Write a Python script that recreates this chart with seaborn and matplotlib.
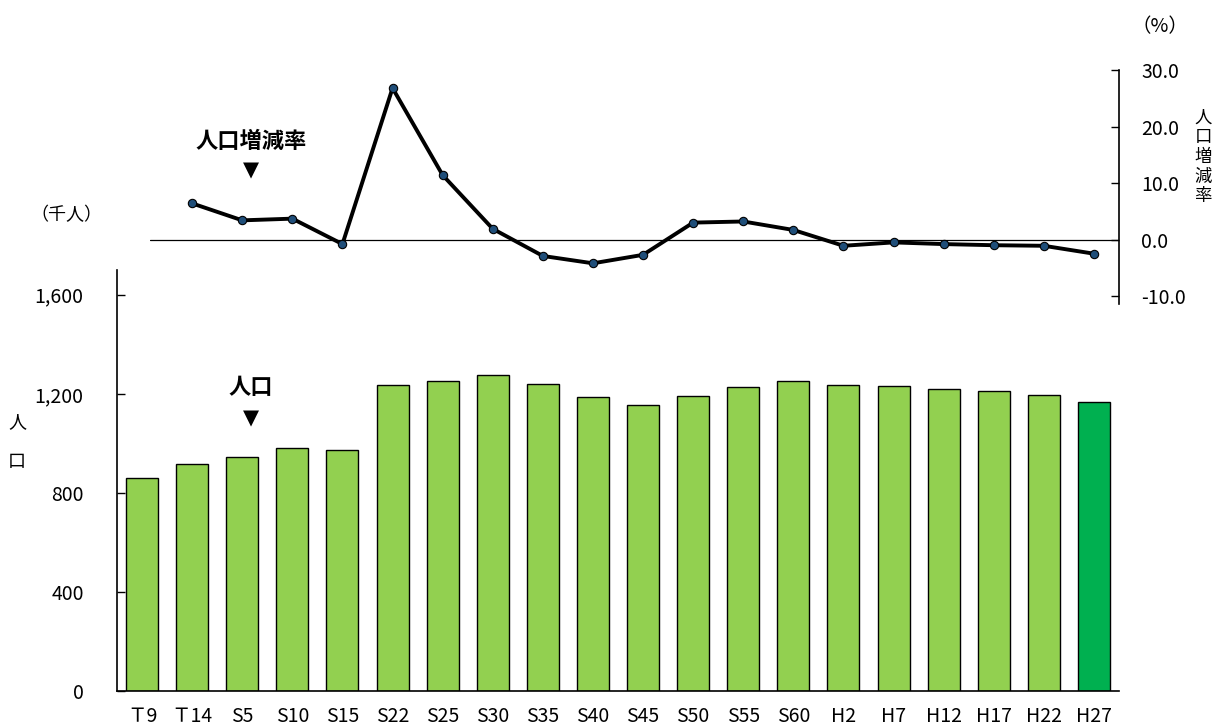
import numpy as np
import pandas as pd
import matplotlib
matplotlib.use("Agg")
import matplotlib.pyplot as plt
import seaborn as sns

# Census years (Taisho / Showa / Heisei)
periods = ["Ｔ9", "Ｔ14", "S5", "S10", "S15", "S22", "S25", "S30", "S35", "S40",
           "S45", "S50", "S55", "S60", "H2", "H7", "H12", "H17", "H22", "H27"]
# Population (thousand persons)
population = [860.3, 915.1, 945.8, 980.5, 973.0, 1233.7, 1253.0, 1277.2, 1239.7, 1187.5,
              1155.6, 1190.3, 1228.9, 1250.2, 1236.9, 1231.3, 1221.1, 1209.6, 1196.5, 1166.3]
# Population change rate (%), from Ｔ14 onward
rate_periods = periods[1:]
change_rate = [6.4, 3.4, 3.7, -0.8, 26.8, 11.4, 1.9, -2.9, -4.2, -2.7,
               3.0, 3.2, 1.7, -1.1, -0.5, -0.8, -1.0, -1.1, -2.5]

bar_colors = ["#92D050"] * (len(periods) - 1) + ["#00B050"]

sns.set_theme(style="white")
plt.rcParams["font.family"] = ["Noto Sans CJK JP", "DejaVu Sans"]
plt.rcParams["text.color"] = "black"
plt.rcParams["xtick.color"] = "black"
plt.rcParams["ytick.color"] = "black"

W, H = 1221, 727
fig = plt.figure(figsize=(W / 100, H / 100), dpi=100)

def px_axes(x0, y0, x1, y1):
    return fig.add_axes([x0 / W, 1 - y1 / H, (x1 - x0) / W, (y1 - y0) / H])

# ---- population bars ----
ax = px_axes(117, 270, 1119, 691)
df = pd.DataFrame({"period": periods, "population": population})
sns.barplot(data=df, x="period", y="population", hue="period", palette=bar_colors,
            saturation=1, width=0.64, edgecolor="black", linewidth=1.0,
            legend=False, ax=ax)
ax.set_xlim(-0.5, len(periods) - 0.5)
ax.set_ylim(0, 1700)
ax.set_yticks([0, 400, 800, 1200, 1600])
ax.set_yticklabels(["0", "400", "800", "1,200", "1,600"])
ax.set_xlabel("")
ax.set_ylabel("")
for s in ["top", "right"]:
    ax.spines[s].set_visible(False)
for s in ["left", "bottom"]:
    ax.spines[s].set_color("black")
    ax.spines[s].set_linewidth(1.2)
ax.tick_params(axis="y", direction="in", length=6, width=1, color="black",
               labelsize=14, pad=24, left=True)
ax.tick_params(axis="x", length=0, labelsize=14, pad=11)

# ---- population change rate line ----
ax2 = px_axes(150, 70, 1119, 304)
xpos = np.arange(1, len(periods))
sns.lineplot(x=xpos, y=change_rate, ax=ax2, color="black", linewidth=2.8,
             marker="o", markersize=6, markerfacecolor="#1F4E79",
             markeredgecolor="black", markeredgewidth=0.8)
ax2.set_xlim((150 - 117) / 50.1 - 0.5, len(periods) - 0.5)
ax2.set_ylim(-11.4, 30)
ax2.axhline(0, color="black", linewidth=0.9, zorder=1)
ax2.patch.set_visible(False)
for s in ["top", "left", "bottom"]:
    ax2.spines[s].set_visible(False)
ax2.spines["right"].set_color("black")
ax2.spines["right"].set_linewidth(1.2)
ax2.yaxis.tick_right()
ax2.set_yticks([-10, 0, 10, 20, 30])
ax2.set_yticklabels(["-10.0", "0.0", "10.0", "20.0", "30.0"])
ax2.tick_params(axis="y", direction="in", length=6, width=1, color="black",
                labelsize=14, pad=16, right=True, left=False)
ax2.set_xticks([])

# ---- annotations ----
fig.text(66 / W, 1 - 215 / H, "（千人）", fontsize=13, ha="center", va="center")
fig.text(1160 / W, 1 - 27 / H, "（%）", fontsize=14, ha="center", va="center")
fig.text(1203 / W, 1 - 157 / H, "人\n口\n増\n減\n率", fontsize=12.5, ha="center",
         va="center", linespacing=1.12)
fig.text(17 / W, 1 - 442 / H, "人\n\n口", fontsize=13, ha="center", va="center",
         linespacing=1.15)

fig.text(251 / W, 1 - 141 / H, "人口増減率", fontsize=16, fontweight="bold",
         ha="center", va="center")
fig.text(251 / W, 1 - 170 / H, "▼", fontsize=15, ha="center", va="center",
         family=["DejaVu Sans"])
fig.text(251 / W, 1 - 388 / H, "人口", fontsize=16, fontweight="bold",
         ha="center", va="center")
fig.text(251 / W, 1 - 418 / H, "▼", fontsize=15, ha="center", va="center",
         family=["DejaVu Sans"])

fig.savefig("out.png", dpi=100)
